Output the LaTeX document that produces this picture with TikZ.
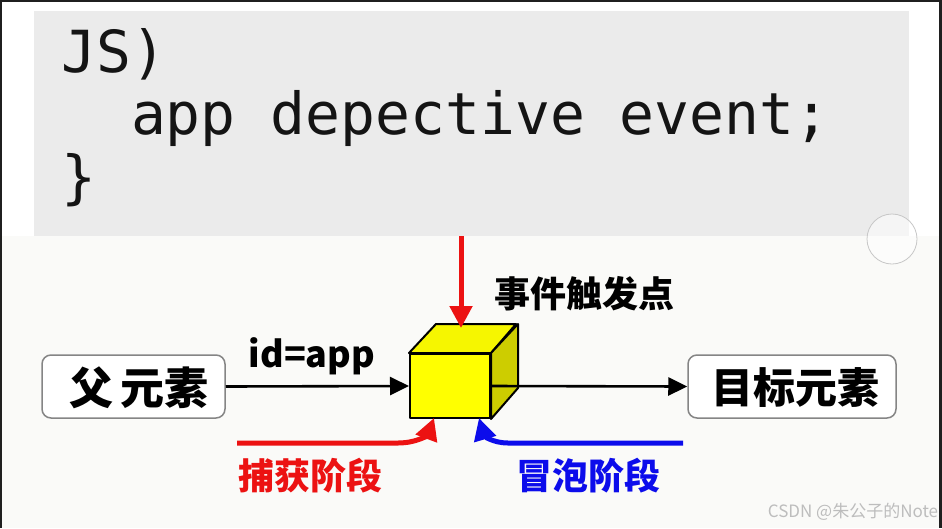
\documentclass[tikz,border=0pt]{standalone}
\usepackage{fontspec}
\usetikzlibrary{arrows.meta}
\newfontfamily\cjk{Noto Sans CJK SC}
\newfontfamily\codefont{DejaVu Sans Mono}
\definecolor{codebg}{HTML}{EBEBEB}
\definecolor{pagebg}{HTML}{FAFAF8}
\definecolor{boxline}{HTML}{858585}
\definecolor{redarr}{RGB}{236,18,18}
\definecolor{bluearr}{RGB}{12,12,235}
\definecolor{cubefront}{HTML}{FFFF00}
\definecolor{cubetop}{HTML}{F6F600}
\definecolor{cubeside}{HTML}{CDCD00}
\definecolor{wmark}{HTML}{BDBDBD}
\tikzset{
  codeline/.style={anchor=base west, inner sep=0pt, font=\codefont\fontsize{58}{58}\selectfont, text=black!92},
  elembox/.style={draw=boxline, line width=1.5pt, rounded corners=9pt, fill=white, minimum height=63pt, inner sep=0pt},
  elemtext/.style={inner sep=0pt, font=\cjk\bfseries\fontsize{#1}{#1}\selectfont},
  blackarr/.style={draw=black, line width=2.6pt, -{Triangle[length=19pt,width=18pt]}},
  redarrow/.style={draw=redarr, line width=5pt, -{Triangle[length=22pt,width=22pt]}},
  bluearrow/.style={draw=bluearr, line width=5pt, -{Triangle[length=22pt,width=22pt]}},
  cubeface/.style={draw=black, line width=2pt, line join=round},
}
\begin{document}
\begin{tikzpicture}[x=1pt, y=-1pt]
\useasboundingbox (0,0) rectangle (942,528);
\fill[pagebg] (0,0) rectangle (942,528);
\fill[white] (0,0) rectangle (942,236);
% code panel
\fill[codebg] (34,11) rectangle (909,236);
\node[codeline] (l1) at (61,72) {JS)};
\node[codeline] (l2) at (61,134) {\ \ app depective event;};
\node[codeline] (l3) at (61,197) {\}};
% small circle
\draw[black!22, line width=0.8pt, fill=white, fill opacity=0.5] (892,239) circle (25);
% cube
\node[cubeface, fill=cubefront, minimum width=80pt, minimum height=64pt, inner sep=0pt] (cube) at (450,386) {};
\filldraw[cubeface, fill=cubetop] (cube.north west) -- ++(27,-29) -- ++(80,0) -- (cube.north east) -- cycle;
\filldraw[cubeface, fill=cubeside] (cube.north east) -- ++(27,-29) -- ++(0,64) -- (cube.south east) -- cycle;
% element boxes
\node[elembox, minimum width=183pt] (parent) at (133.5,386.5) {};
\node[elemtext=44] (parentt) at (139,388) {父\,元素};
\node[elembox, minimum width=208pt] (target) at (792,386.5) {};
\node[elemtext=42] (targett) at (795,388) {目标元素};
% connectors
\draw[blackarr] (parent.east) -- (cube.west);
\draw[blackarr] (cube.east) -- (target.west);
\node[anchor=base, inner sep=0pt, font=\cjk\bfseries\fontsize{36}{36}\selectfont] (idapp) at (312,367) {id=app};
% trigger arrow
\coordinate (trigS) at (461,236);
\coordinate (trigE) at (461,328);
\draw[redarrow] (trigS) -- (trigE);
\node[elemtext=36] (trigt) at (584,294) {事件触发点};
% capture
\coordinate (capS) at (237,443);
\coordinate (capE) at ([xshift=25pt,yshift=1pt]cube.south west);
\draw[redarrow] (capS) -- (398,443) .. controls (418,443) and (428,434) .. (capE);
\node[elemtext=36, text=redarr] (capt) at (310,476) {捕获阶段};
% bubble
\coordinate (bubS) at (683,443);
\coordinate (bubE) at ([xshift=-12pt,yshift=1pt]cube.south east);
\draw[bluearrow] (bubS) -- (508,443) .. controls (492,443) and (484,435) .. (bubE);
\node[elemtext=36, text=bluearr] (bubt) at (588,476) {冒泡阶段};
% watermark
\node[inner sep=0pt, font=\cjk\fontsize{17}{17}\selectfont, text=wmark] (wm) at (853,512) {CSDN @朱公子的Note};
% frame
\draw[black!88, line width=2pt] (1,528) -- (1,1) -- (940.5,1);
\draw[black!88, line width=3pt] (940.5,0) -- (940.5,528);
\end{tikzpicture}
\end{document}
